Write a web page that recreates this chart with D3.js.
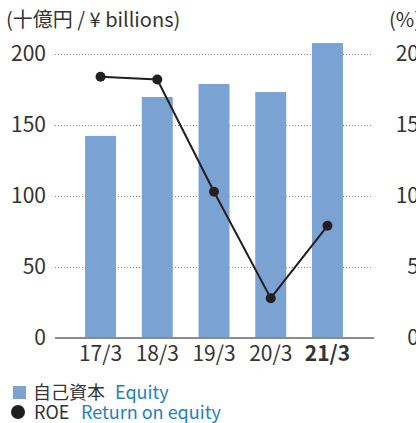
<!DOCTYPE html>
<html lang="ja">
  <head>
    <meta charset="UTF-8" />
    <title>Equity and ROE</title>
    <style>
      body { margin: 0; background: #fff; }
      svg { display: block; font-family: "Noto Sans CJK JP", "Noto Sans", sans-serif; }
    </style>
    <script src="https://cdn.jsdelivr.net/npm/d3@7"></script>
  </head>
  <body>
    <script>
      const years = ["17/3", "18/3", "19/3", "20/3", "21/3"];
      const equity = [142.3, 169.7, 178.9, 173.2, 207.7];
      const roe = [18.4, 18.2, 10.3, 2.8, 7.9];
      const leftTicks = [0, 50, 100, 150, 200];
      const rightTicks = [0, 5, 10, 15, 20];

      const width = 416;
      const height = 423;
      const barColor = "#7aa3d4";
      const blueText = "#1f80c8";

      const svg = d3.select("body")
        .append("svg")
        .attr("width", width)
        .attr("height", height);

      const x = d3.scaleBand()
        .domain(years)
        .range([55, 373])
        .paddingInner(0.454)
        .paddingOuter(0.53);

      const yLeft = d3.scaleLinear().domain([0, 200]).range([338, 54]);
      const yRight = d3.scaleLinear().domain([0, 20]).range([338, 54]);

      // dotted grid lines
      svg.append("g")
        .selectAll("line")
        .data(leftTicks.filter(d => d > 0))
        .enter()
        .append("line")
        .attr("x1", 55)
        .attr("x2", 373)
        .attr("y1", d => yLeft(d) + 0.5)
        .attr("y2", d => yLeft(d) + 0.5)
        .attr("stroke", "#8a8a8a")
        .attr("stroke-width", 1)
        .attr("stroke-dasharray", "1,2");

      // bars
      svg.append("g")
        .selectAll("rect")
        .data(equity)
        .enter()
        .append("rect")
        .attr("x", (d, i) => x(years[i]))
        .attr("width", x.bandwidth())
        .attr("y", d => yLeft(d))
        .attr("height", d => yLeft(0) - yLeft(d))
        .attr("fill", barColor);

      // baseline
      svg.append("line")
        .attr("x1", 55)
        .attr("x2", 374)
        .attr("y1", yLeft(0))
        .attr("y2", yLeft(0))
        .attr("stroke", "#8c8c8c")
        .attr("stroke-width", 2);

      // left axis
      const leftAxis = d3.axisLeft(yLeft).tickValues(leftTicks).tickSize(0).tickPadding(0);
      const gl = svg.append("g").attr("transform", "translate(46,0)").call(leftAxis);
      gl.select(".domain").remove();
      gl.selectAll("text")
        .attr("font-size", 21)
        .attr("fill", "#333")
        .attr("font-family", "'Noto Sans CJK JP', sans-serif");

      // right axis (runs off the right edge)
      const rightAxis = d3.axisLeft(yRight).tickValues(rightTicks).tickSize(0).tickPadding(0);
      const gr = svg.append("g").attr("transform", "translate(419,0)").call(rightAxis);
      gr.select(".domain").remove();
      gr.selectAll("text")
        .attr("font-size", 21)
        .attr("fill", "#333")
        .attr("font-family", "'Noto Sans CJK JP', sans-serif");

      // x axis labels
      const xAxis = d3.axisBottom(x).tickSize(0).tickPadding(0);
      const gx = svg.append("g").attr("transform", "translate(0,346)").call(xAxis);
      gx.select(".domain").remove();
      gx.selectAll("text")
        .attr("font-size", 21)
        .attr("fill", "#333")
        .attr("font-family", "'Noto Sans CJK JP', sans-serif")
        .attr("font-weight", d => (d === "21/3" ? "bold" : "normal"));

      // unit labels
      svg.append("text")
        .attr("x", 6)
        .attr("y", 27)
        .attr("font-size", 20)
        .attr("fill", "#333")
        .text("(十億円 / ¥ billions)");
      svg.append("text")
        .attr("x", 389)
        .attr("y", 27)
        .attr("font-size", 20)
        .attr("fill", "#333")
        .text("(%)");

      // ROE line
      const line = d3.line()
        .x((d, i) => x(years[i]) + x.bandwidth() / 2)
        .y(d => yRight(d));
      svg.append("path")
        .datum(roe)
        .attr("d", line)
        .attr("fill", "none")
        .attr("stroke", "#231f20")
        .attr("stroke-width", 2);
      svg.append("g")
        .selectAll("circle")
        .data(roe)
        .enter()
        .append("circle")
        .attr("cx", (d, i) => x(years[i]) + x.bandwidth() / 2)
        .attr("cy", d => yRight(d))
        .attr("r", 5)
        .attr("fill", "#231f20");

      // legend
      const legend = svg.append("g").attr("font-size", 18);
      legend.append("rect")
        .attr("x", 13)
        .attr("y", 386)
        .attr("width", 13)
        .attr("height", 13)
        .attr("fill", barColor);
      legend.append("text").attr("x", 33).attr("y", 399).attr("fill", "#333").text("自己資本");
      legend.append("text").attr("x", 115).attr("y", 399).attr("fill", blueText).text("Equity");
      legend.append("circle").attr("cx", 18).attr("cy", 412).attr("r", 7).attr("fill", "#231f20");
      legend.append("text").attr("x", 34).attr("y", 419).attr("fill", "#333").text("ROE");
      legend.append("text").attr("x", 81).attr("y", 419).attr("fill", blueText).text("Return on equity");
    </script>
  </body>
</html>
